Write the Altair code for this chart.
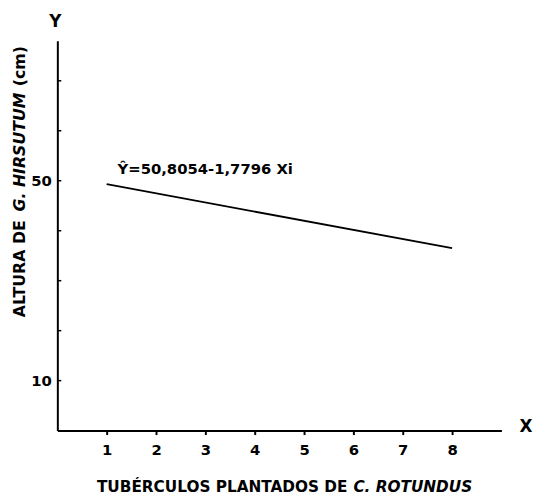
import altair as alt
import pandas as pd

# Data
line_x = [1, 8]
line_y = [49.3, 36.5]
y_ticks = [10, 20, 30, 40, 50, 60, 70]
y_labels_shown = [10, 50]
x_ticks = [1, 2, 3, 4, 5, 6, 7, 8]
equation = "Ŷ=50,8054-1,7796 Xi"

TITLE_FONT = "DejaVu Sans"
TICK_FONT = "DejaVu Sans"

line_df = pd.DataFrame({"x": line_x, "y": line_y})
tick_df = pd.DataFrame({"y": y_ticks})

xs = alt.Scale(domain=[0, 9], nice=False, zero=False)
ys = alt.Scale(domain=[0, 78], nice=False, zero=False)

label_expr = " || ".join(f"datum.value == {v}" for v in y_labels_shown)

line = alt.Chart(line_df).mark_line(color="black", strokeWidth=1.8).encode(
    x=alt.X("x:Q", scale=xs, axis=alt.Axis(
        values=x_ticks, title=None, grid=False, tickSize=4, tickWidth=2,
        tickColor="black", domainColor="black", domainWidth=2,
        labelFont=TICK_FONT, labelFontSize=15, labelFontWeight="bold",
        labelColor="black", labelPadding=8)),
    y=alt.Y("y:Q", scale=ys, axis=alt.Axis(
        values=y_ticks, title=None, grid=False, tickSize=0,
        domainColor="black", domainWidth=2,
        labelExpr=f"({label_expr}) ? datum.label : ''",
        labelFont=TICK_FONT, labelFontSize=15, labelFontWeight="bold",
        labelColor="black", labelPadding=6)),
)

inner_ticks = alt.Chart(tick_df).mark_rule(color="black", strokeWidth=1.5).encode(
    y=alt.Y("y:Q", scale=ys),
    x=alt.value(0),
    x2=alt.value(4),
)

def txt(s, x, y, size=15, align="left", angle=0, style="normal", baseline="middle"):
    kw = dict(text=s, font=TITLE_FONT, fontSize=size, fontWeight="bold",
              align=align, baseline=baseline, color="black", fontStyle=style)
    if angle:
        kw["angle"] = angle
    return alt.Chart(pd.DataFrame({"a": [0]})).mark_text(**kw).encode(
        x=alt.value(x), y=alt.value(y))

texts = [
    txt(equation, 61, 130, size=15),
    txt("Y", -2, -19, size=17, align="center"),
    txt("X", 475, 391, size=17, align="center"),
    txt("TUBÉRCULOS PLANTADOS DE", 294, 452, size=15.5, align="right"),
    txt("C. ROTUNDUS", 300, 452, size=15.5, style="italic"),
    txt("ALTURA DE", -38, 280, size=16, angle=270),
    txt("G. HIRSUTUM", -38, 173, size=16, angle=270, style="italic"),
    txt("(cm)", -38, 46, size=16, angle=270),
]

chart = alt.layer(line, inner_ticks, *texts).properties(
    width=450, height=395,
    padding={"left": 50, "top": 30, "right": 32, "bottom": 62},
    autosize=alt.AutoSizeParams(type="none"),
    background="white",
).configure_view(stroke=None)

chart.save("out.html", embed_options={"renderer": "svg", "actions": False})
